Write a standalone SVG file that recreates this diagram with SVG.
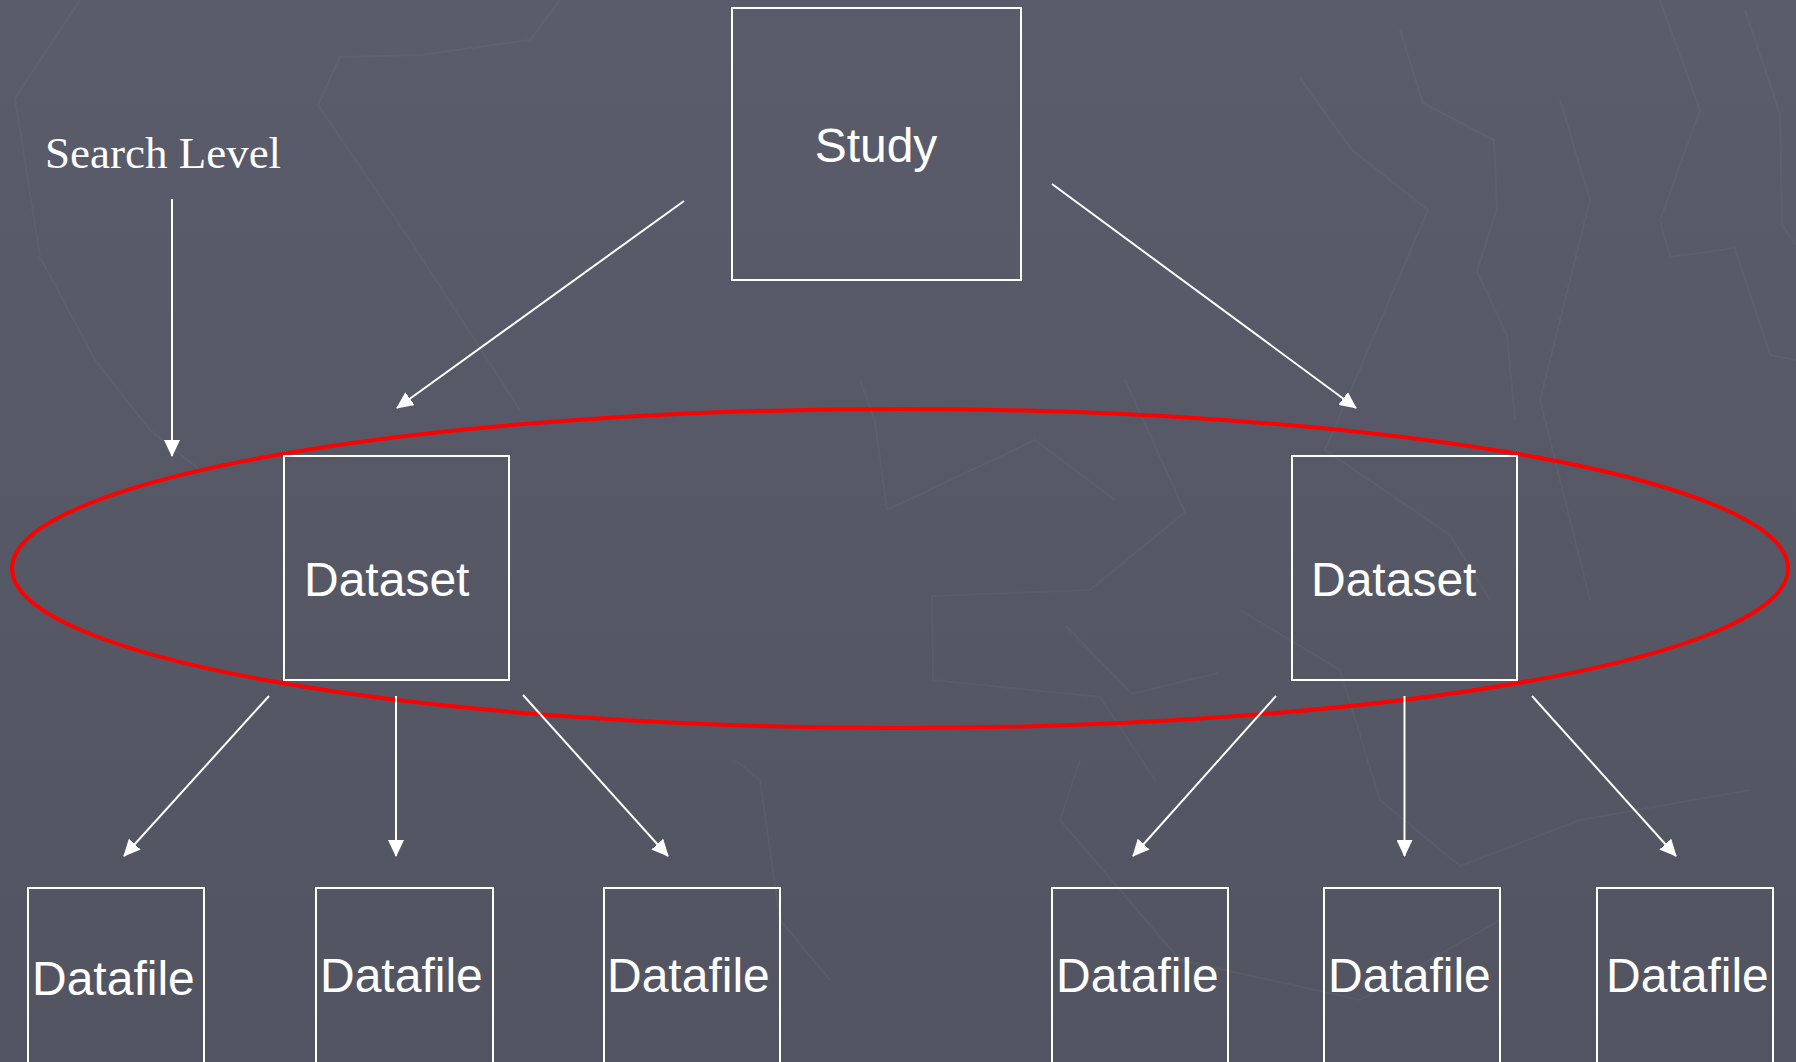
<svg xmlns="http://www.w3.org/2000/svg" width="1796" height="1062" viewBox="0 0 1796 1062">
<defs>
<linearGradient id="bg" x1="0" y1="0" x2="0" y2="1">
<stop offset="0" stop-color="#5a5c6b"/>
<stop offset="1" stop-color="#525461"/>
</linearGradient>
<marker id="ah" markerUnits="userSpaceOnUse" markerWidth="18" markerHeight="16" refX="16" refY="8" orient="auto">
<path d="M0,0 L17,8 L0,16 Z" fill="#ffffff"/>
</marker>
<style>
.box{fill:none;stroke:#ffffff;stroke-width:2}
.lbl{font-family:"Liberation Sans",Arial,sans-serif;fill:#ffffff}
.con{stroke:#ffffff;stroke-width:2;fill:none;marker-end:url(#ah)}
.tex{fill:none;stroke:#ffffff;stroke-opacity:0.035;stroke-width:2}
</style>
</defs>
<rect x="0" y="0" width="1796" height="1062" fill="url(#bg)"/>
<g id="background-texture">
<polyline class="tex" points="80,0 15,98 40,257 95,360 150,430 200,470"/>
<polyline class="tex" points="560,0 530,40 420,55 340,57 318,105 410,240 520,410"/>
<polyline class="tex" points="1300,78 1352,150 1428,210 1325,450 1450,535 1490,600"/>
<polyline class="tex" points="1400,30 1423,103 1494,140 1497,208 1477,272 1507,335 1515,420"/>
<polyline class="tex" points="1560,100 1590,200 1540,400 1590,600"/>
<polyline class="tex" points="1660,0 1700,110 1660,220 1670,257 1735,248 1770,355 1796,360"/>
<polyline class="tex" points="1745,10 1780,115 1782,225 1796,245"/>
<polyline class="tex" points="860,380 875,422 887,510 1035,440 1115,500"/>
<polyline class="tex" points="1125,380 1185,512 1090,590 932,596 933,680 1100,697 1155,780"/>
<polyline class="tex" points="1065,625 1132,694 1218,673"/>
<polyline class="tex" points="1240,610 1340,670 1380,800 1460,866 1580,820 1750,790"/>
<polyline class="tex" points="735,760 760,780 780,920 830,980"/>
<polyline class="tex" points="1080,760 1060,820 1180,960 1360,1000 1500,920"/>
</g>
<ellipse id="search-level-ellipse" cx="900" cy="568.5" rx="888" ry="159.5" fill="none" stroke="#ff0000" stroke-width="4"/>
<g id="connectors">
<line class="con" x1="172" y1="199" x2="172" y2="456"/>
<line class="con" x1="684" y1="201" x2="397" y2="408"/>
<line class="con" x1="1052" y1="184" x2="1356" y2="408"/>
<line class="con" x1="269" y1="696" x2="124" y2="856"/>
<line class="con" x1="396" y1="696" x2="396" y2="856"/>
<line class="con" x1="523" y1="695" x2="668" y2="856"/>
<line class="con" x1="1276" y1="696" x2="1133" y2="856"/>
<line class="con" x1="1404.5" y1="696" x2="1404.5" y2="856"/>
<line class="con" x1="1532" y1="696" x2="1676" y2="856"/>
</g>
<g id="search-level">
<text x="45" y="168" font-family="'Liberation Serif','Times New Roman',serif" font-size="45" fill="#ffffff">Search Level</text>
</g>
<g id="study">
<rect class="box" x="732" y="8" width="289" height="272"/>
<text class="lbl" x="876" y="162" font-size="48" text-anchor="middle">Study</text>
</g>
<g id="dataset-left">
<rect class="box" x="284" y="456" width="225" height="224"/>
<text class="lbl" x="304" y="596" font-size="48">Dataset</text>
</g>
<g id="dataset-right">
<rect class="box" x="1292" y="456" width="225" height="224"/>
<text class="lbl" x="1311" y="596" font-size="48">Dataset</text>
</g>
<g id="datafile-1">
<rect class="box" x="28" y="888" width="176" height="190"/>
<text class="lbl" x="32" y="995" font-size="48">Datafile</text>
</g>
<g id="datafile-2">
<rect class="box" x="316" y="888" width="177" height="190"/>
<text class="lbl" x="320" y="992" font-size="48">Datafile</text>
</g>
<g id="datafile-3">
<rect class="box" x="604" y="888" width="176" height="190"/>
<text class="lbl" x="607" y="992" font-size="48">Datafile</text>
</g>
<g id="datafile-4">
<rect class="box" x="1052" y="888" width="176" height="190"/>
<text class="lbl" x="1056" y="992" font-size="48">Datafile</text>
</g>
<g id="datafile-5">
<rect class="box" x="1324" y="888" width="176" height="190"/>
<text class="lbl" x="1328" y="992" font-size="48">Datafile</text>
</g>
<g id="datafile-6">
<rect class="box" x="1597" y="888" width="176" height="190"/>
<text class="lbl" x="1606" y="992" font-size="48">Datafile</text>
</g>
</svg>
